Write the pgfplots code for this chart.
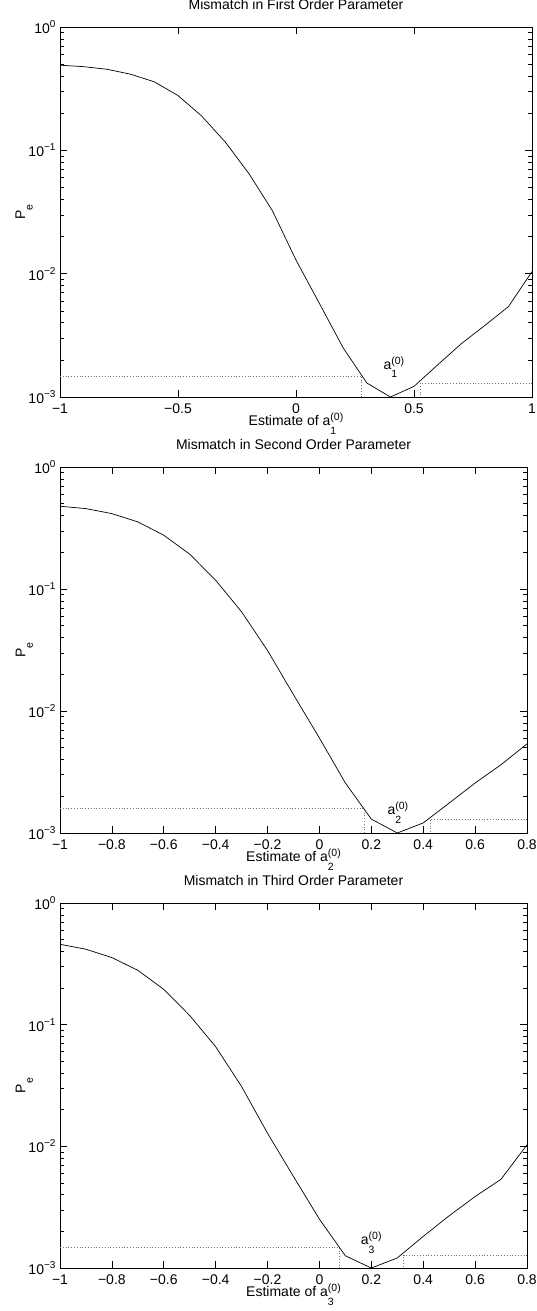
\documentclass[border=0pt]{standalone}
\usepackage{fontspec}
\setmainfont{Liberation Sans}
\usepackage{pgfplots}
\pgfplotsset{compat=1.18}
\newcommand{\aoo}[1]{a\rlap{\raisebox{-8.5pt}{\fontsize{10.5}{10.5}\selectfont #1}}\raisebox{5pt}{\fontsize{10.5}{10.5}\selectfont (0)}}
\newcommand{\tp}[1]{10\raisebox{6pt}{\fontsize{10}{10}\selectfont #1}}
\tikzset{alab/.style={anchor=base west, inner sep=0pt, font=\fontsize{14}{16}\selectfont}}
\pgfplotsset{
  myax/.style={
    scale only axis, ymin=1e-3, ymax=1,
    anchor=north west,
    axis line style={line width=0.8pt},
    every tick/.style={black, line width=0.6pt},
    major tick length=7pt, minor tick length=4pt,
    ytick={1e-3,1e-2,1e-1,1},
    yticklabels={\tp{−3},\tp{−2},\tp{−1},\tp{0}},
    tick label style={font=\fontsize{14}{16}\selectfont},
    label style={font=\fontsize{14}{16}\selectfont},
    title style={font=\fontsize{14}{16}\selectfont, at={(axis description cs:0.5,1)}, anchor=base, yshift=12pt},
    yticklabel style={anchor=east, xshift=-1pt},
    xticklabel style={anchor=base, yshift=-16.5pt},
    xlabel style={at={(axis description cs:0.5,0)}, anchor=base, yshift=-28.5pt},
    ylabel style={at={(axis description cs:-0.074,0.5)}, anchor=base, rotate=0},
    ylabel={P\raisebox{-7.5pt}{\fontsize{10.5}{10.5}\selectfont e}},
    clip=false,
  },
  pcurve/.style={black, line width=0.7pt, mark=none},
  pdots/.style={black!55, line width=0.6pt, dash pattern=on 0.6pt off 2.2pt},
}
\begin{document}
\begin{tikzpicture}
\path[use as bounding box] (0pt,0pt) rectangle (536pt,-1311pt);

% ---------- Plot 1 ----------
\begin{semilogyaxis}[myax, at={(60pt,-27pt)}, width=472pt, height=370pt,
  xmin=-1, xmax=1, xtick={-1,-0.5,0,0.5,1},
  xticklabels={−1,−0.5,0,0.5,1},
  title={Mismatch in First Order Parameter},
  xlabel={Estimate of \aoo{1}}]
\addplot[pcurve] coordinates {
(-1,0.49) (-0.9,0.477) (-0.8,0.454) (-0.7,0.414) (-0.6,0.359) (-0.5,0.278)
(-0.4,0.19) (-0.3,0.117) (-0.2,0.065) (-0.1,0.0324) (0,0.0129) (0.1,0.0057)
(0.2,0.0025) (0.3,0.0013) (0.4,0.001) (0.5,0.00122) (0.6,0.00182)
(0.7,0.0027) (0.8,0.0038) (0.9,0.0054) (1.0,0.0104)};
\addplot[pdots] coordinates {(-1,0.00148) (0.278,0.00148) (0.278,0.001)};
\addplot[pdots] coordinates {(1,0.00129) (0.525,0.00129) (0.525,0.001)};
\node[alab] at (axis cs:0.37,0.00168) {\aoo{1}};
\end{semilogyaxis}

% ---------- Plot 2 ----------
\begin{semilogyaxis}[myax, at={(60pt,-467pt)}, width=467pt, height=366pt,
  xmin=-1, xmax=0.8, xtick={-1,-0.8,-0.6,-0.4,-0.2,0,0.2,0.4,0.6,0.8},
  xticklabels={−1,−0.8,−0.6,−0.4,−0.2,0,0.2,0.4,0.6,0.8},
  title={Mismatch in Second Order Parameter},
  xlabel={Estimate of \aoo{2}}]
\addplot[pcurve] coordinates {
(-1,0.477) (-0.9,0.456) (-0.8,0.415) (-0.7,0.355) (-0.6,0.276) (-0.5,0.193)
(-0.4,0.118) (-0.3,0.065) (-0.2,0.0313) (-0.1,0.0136) (0,0.006) (0.1,0.00257)
(0.2,0.0013) (0.3,0.001) (0.4,0.00121) (0.5,0.00176) (0.6,0.00257)
(0.7,0.00363) (0.8,0.00538)};
\addplot[pdots] coordinates {(-1,0.00159) (0.171,0.00159) (0.171,0.001)};
\addplot[pdots] coordinates {(0.8,0.0013) (0.426,0.0013) (0.426,0.001)};
\node[alab] at (axis cs:0.262,0.00141) {\aoo{2}};
\end{semilogyaxis}

% ---------- Plot 3 ----------
\begin{semilogyaxis}[myax, at={(60pt,-903pt)}, width=467pt, height=365pt,
  xmin=-1, xmax=0.8, xtick={-1,-0.8,-0.6,-0.4,-0.2,0,0.2,0.4,0.6,0.8},
  xticklabels={−1,−0.8,−0.6,−0.4,−0.2,0,0.2,0.4,0.6,0.8},
  title={Mismatch in Third Order Parameter},
  xlabel={Estimate of \aoo{3}}]
\addplot[pcurve] coordinates {
(-1,0.458) (-0.9,0.417) (-0.8,0.356) (-0.7,0.28) (-0.6,0.195) (-0.5,0.119)
(-0.4,0.0659) (-0.3,0.031) (-0.2,0.0128) (-0.1,0.00565) (0,0.00252) (0.1,0.00126)
(0.2,0.001) (0.3,0.00121) (0.4,0.00182) (0.5,0.00269) (0.6,0.00387)
(0.7,0.00537) (0.8,0.0103)};
\addplot[pdots] coordinates {(-1,0.00148) (0.077,0.00148) (0.077,0.001)};
\addplot[pdots] coordinates {(0.8,0.00128) (0.324,0.00128) (0.324,0.001)};
\node[alab] at (axis cs:0.159,0.00155) {\aoo{3}};
\end{semilogyaxis}
\end{tikzpicture}
\end{document}
